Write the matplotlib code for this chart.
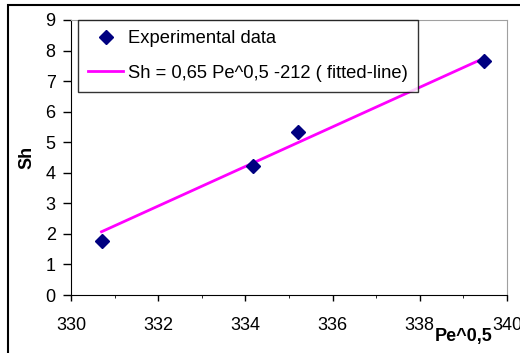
"""Sh vs Pe^0,5: experimental points and fitted line."""

import matplotlib
matplotlib.use("Agg")
import matplotlib.pyplot as plt
from matplotlib.patches import Rectangle
from matplotlib.ticker import MultipleLocator

pe_sqrt = [330.7, 334.17, 335.21, 339.47]
sh = [1.78, 4.22, 5.33, 7.65]

fit_x = [330.7, 339.47]
fit_y = [2.07, 7.75]

plt.rcParams["font.family"] = ["Liberation Sans", "DejaVu Sans"]

fig = plt.figure(figsize=(5.2, 3.53), dpi=100)
ax = fig.add_axes([71 / 520, 1 - 295 / 353, 436 / 520, 275 / 353])

ax.plot(pe_sqrt, sh, linestyle="none", marker="D", markersize=7.5,
        color="#000080", label="Experimental data", zorder=3)
ax.plot(fit_x, fit_y, color="#ff00ff", linewidth=2,
        label="Sh = 0,65 Pe^0,5 -212 ( fitted-line)", zorder=2)

ax.set_xlim(330, 340)
ax.set_ylim(0, 9)
ax.xaxis.set_major_locator(MultipleLocator(2))
ax.xaxis.set_minor_locator(MultipleLocator(1))
ax.yaxis.set_major_locator(MultipleLocator(1))
ax.tick_params(axis="both", direction="out", labelsize=13, width=1,
               colors="black")
ax.tick_params(axis="y", length=6, pad=5)
ax.tick_params(axis="x", length=4, pad=12)
ax.tick_params(axis="x", which="minor", direction="out", length=2.5)

for side in ("top", "right"):
    ax.spines[side].set_color("#a0a0a0")
for side in ("left", "bottom"):
    ax.spines[side].set_color("black")

ax.set_ylabel("Sh", fontsize=13, fontweight="bold", labelpad=7)
fig.text(464 / 520, 1 - 337 / 353, "Pe^0,5", fontsize=13,
         fontweight="bold", ha="center", va="center")

leg = ax.legend(loc="upper left", bbox_to_anchor=(7 / 436, 1.0),
                fontsize=13.2, frameon=True, fancybox=False,
                edgecolor="black", borderpad=0.55, labelspacing=0.95,
                handlelength=1.9, handletextpad=0.3, borderaxespad=0)
leg.get_frame().set_linewidth(1)

fig.patches.append(Rectangle((8 / 520, -0.1), 1.2, 1 - 5 / 353 + 0.1,
                             transform=fig.transFigure, fill=False,
                             edgecolor="black", linewidth=1.5))

fig.savefig("out.png", dpi=100)
